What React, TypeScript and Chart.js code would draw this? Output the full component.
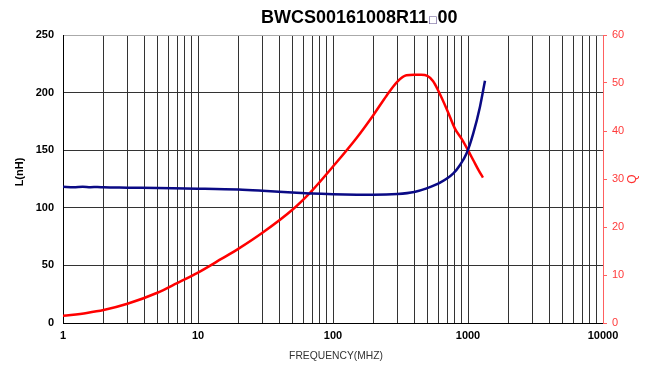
import React, { useEffect, useRef } from 'react';
import { Chart, registerables } from 'chart.js';

Chart.register(...registerables);

// ---- data ----
const qFreq = [1, 1.5, 2, 3, 5, 7, 10, 15, 20, 30, 50, 70, 100, 150, 200, 250, 300, 350, 400, 450, 500, 550, 600, 700, 800, 900, 1000, 1100, 1200, 1290];
const qValues = [1.5, 2.1, 2.7, 4.0, 6.3, 8.3, 10.5, 13.4, 15.5, 18.8, 23.6, 27.6, 32.6, 38.6, 43.4, 47.4, 50.3, 51.6, 51.7, 51.7, 51.5, 50.4, 48.5, 44.4, 40.5, 38.3, 36.0, 33.8, 31.8, 30.3];

const lFreq = [1, 1.2, 1.4, 1.6, 1.8, 2, 3, 5, 10, 20, 30, 50, 70, 100, 150, 200, 300, 400, 494, 621, 779, 873, 977, 1094, 1227, 1336];
const lValues = [118.2, 117.9, 118.3, 117.9, 118.1, 117.8, 117.5, 117.1, 116.6, 115.8, 114.8, 113.3, 112.4, 111.8, 111.4, 111.3, 112.0, 113.8, 116.9, 121.8, 129.9, 137.2, 147.3, 164.6, 187.8, 210.3];

const xTickValues = [1, 2, 3, 4, 5, 6, 7, 8, 9, 10, 20, 30, 40, 50, 60, 70, 80, 90, 100, 200, 300, 400, 500, 600, 700, 800, 900, 1000, 2000, 3000, 4000, 5000, 6000, 7000, 8000, 9000, 10000];
const xLabelValues = [1, 10, 100, 1000, 10000];

const titleMain = 'BWCS00161008R11';
const titleMark = '□';
const titleEnd = '00';
const xTitle = 'FREQUENCY(MHZ)';
const yTitle = 'L(nH)';
const y1Title = 'Q';

const FONT = '"Liberation Sans", Arial, sans-serif';

const textPlugin = {
  id: 'texts',
  afterDraw(chart: any) {
    const ctx = chart.ctx;
    const ca = chart.chartArea;
    ctx.save();
    // title
    ctx.textBaseline = 'alphabetic';
    ctx.textAlign = 'left';
    ctx.fillStyle = '#000';
    ctx.font = `bold 18px ${FONT}`;
    let x = ca.left + 198;
    const by = 23;
    ctx.fillText(titleMain, x, by);
    x += ctx.measureText(titleMain).width;
    ctx.font = `10px "DejaVu Sans", sans-serif`;
    ctx.fillStyle = '#5b4a8b';
    ctx.fillText(titleMark, x, by);
    x += ctx.measureText(titleMark).width;
    ctx.font = `bold 18px ${FONT}`;
    ctx.fillStyle = '#000';
    ctx.fillText(titleEnd, x, by);

    // x title
    ctx.font = `10.3px ${FONT}`;
    ctx.fillStyle = '#333';
    ctx.textAlign = 'center';
    ctx.textBaseline = 'middle';
    ctx.fillText(xTitle, ca.left + 273, 356);

    // left title
    ctx.save();
    ctx.translate(20, 172);
    ctx.rotate(-Math.PI / 2);
    ctx.font = `bold 11px ${FONT}`;
    ctx.fillStyle = '#000';
    ctx.fillText(yTitle, 0, 0);
    ctx.restore();

    // right title
    ctx.save();
    ctx.translate(633, 179);
    ctx.rotate(-Math.PI / 2);
    ctx.font = `12px ${FONT}`;
    ctx.fillStyle = '#ff3030';
    ctx.fillText(y1Title, 0, 0);
    ctx.restore();

    ctx.restore();
  },
};

export default function App() {
  const ref = useRef<HTMLCanvasElement>(null);
  useEffect(() => {
    document.body.style.margin = '0';
    const canvas = ref.current!;
    const chart = new Chart(canvas, {
      type: 'line',
      data: {
        datasets: [
          {
            label: 'L',
            data: lFreq.map((f, i) => ({ x: f, y: lValues[i] })),
            borderColor: '#0a0a85',
            borderWidth: 2.5,
            pointRadius: 0,
            cubicInterpolationMode: 'monotone',
            yAxisID: 'y',
            fill: false,
          },
          {
            label: 'Q',
            data: qFreq.map((f, i) => ({ x: f, y: qValues[i] })),
            borderColor: '#ff0000',
            borderWidth: 2.5,
            pointRadius: 0,
            cubicInterpolationMode: 'monotone',
            yAxisID: 'y1',
            fill: false,
          },
        ],
      },
      options: {
        responsive: false,
        animation: false,
        layout: { padding: { top: 35, left: 0, right: 0, bottom: 0 } },
        plugins: { legend: { display: false }, tooltip: { enabled: false }, title: { display: false } },
        scales: {
          x: {
            type: 'logarithmic',
            position: 'bottom',
            min: 1,
            max: 10000,
            afterBuildTicks: (scale: any) => {
              scale.ticks = xTickValues.map((v) => ({ value: v, major: xLabelValues.includes(v) }));
            },
            afterFit: (scale: any) => {
              scale.height = 42;
            },
            ticks: {
              autoSkip: false,
              maxRotation: 0,
              minRotation: 0,
              padding: 6,
              color: '#000',
              font: { family: FONT, size: 11, weight: 'bold' },
              callback: (value: any) => (xLabelValues.includes(Number(value)) ? String(value) : ''),
            },
            grid: { color: '#333', lineWidth: 1, drawTicks: false },
            border: { color: '#000', width: 1 },
          },
          y: {
            type: 'linear',
            position: 'left',
            min: 0,
            max: 250,
            afterFit: (scale: any) => {
              scale.width = 63;
            },
            ticks: {
              stepSize: 50,
              padding: 9,
              color: '#000',
              font: { family: FONT, size: 11, weight: 'bold' },
            },
            grid: {
              color: (c: any) => (c.tick && c.tick.value === 250 ? '#aaa' : '#333'),
              lineWidth: 1,
              drawTicks: false,
            },
            border: { color: '#000', width: 1 },
          },
          y1: {
            type: 'linear',
            position: 'right',
            min: 0,
            max: 60,
            afterFit: (scale: any) => {
              scale.width = 44;
            },
            ticks: {
              stepSize: 10,
              padding: 5,
              color: '#ff3b3b',
              font: { family: FONT, size: 11 },
            },
            grid: { drawOnChartArea: false, drawTicks: true, tickLength: 4, color: '#ff6060' },
            border: { color: '#ff6060', width: 1 },
          },
        },
      },
      plugins: [textPlugin],
    } as any);
    return () => chart.destroy();
  }, []);
  return (
    <div style={{ width: 647, height: 365, background: '#fff' }}>
      <canvas ref={ref} width={647} height={365} style={{ display: 'block' }} />
    </div>
  );
}
